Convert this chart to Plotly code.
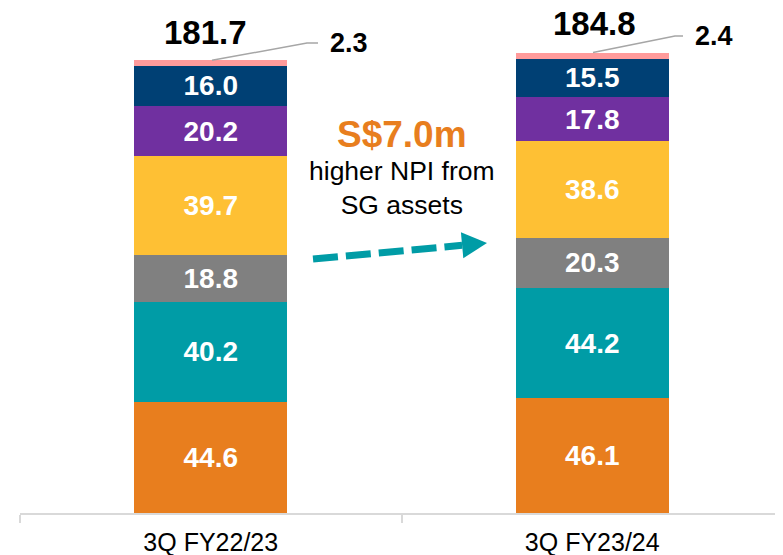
import math
import plotly.graph_objects as go

categories = ["3Q FY22/23", "3Q FY23/24"]
seg_names = ["S1", "S2", "S3", "S4", "S5", "S6", "S7"]
s1_orange = [44.6, 46.1]
s2_teal = [40.2, 44.2]
s3_gray = [18.8, 20.3]
s4_yellow = [39.7, 38.6]
s5_purple = [20.2, 17.8]
s6_navy = [16.0, 15.5]
s7_pink = [2.3, 2.4]
totals = [181.7, 184.8]
callout_big = "S$7.0m"
callout_small = "higher NPI from<br>SG assets"

series = [s1_orange, s2_teal, s3_gray, s4_yellow, s5_purple, s6_navy, s7_pink]
colors = ["#E87E1E", "#009CA6", "#808080", "#FEC034", "#7030A0", "#004074", "#FF9B9B"]

FONT = "Liberation Sans, Arial, sans-serif"
OFF = 8  # page body margin
W, H = 775, 547
ML, MR, MT, MB = 12, 0, 0, 42
PW = W - ML - MR
PH = H - MT - MB
YMAX = PH / 2.49


def px_x(px):  # screen pixel x -> category data x
    return (px - OFF - ML) / PW * 2 - 0.5


def px_y(py):  # screen pixel y -> data y
    return (H - MB - (py - OFF)) / PH * YMAX


fig = go.Figure()
for i, vals in enumerate(series):
    is_pink = i == len(series) - 1
    fig.add_trace(go.Bar(
        x=categories, y=vals, name=seg_names[i],
        marker=dict(color=colors[i], line=dict(width=0)),
        text=None if is_pink else [f"{v:.1f}" for v in vals],
        textposition="inside", insidetextanchor="middle",
        textfont=dict(family=FONT, size=28, color="white", weight="bold"),
        constraintext="none",
        hoverinfo="skip",
    ))

stack_tops = [sum(s[j] for s in series) for j in range(2)]

# totals
for j, cat in enumerate(categories):
    fig.add_annotation(x=j, y=stack_tops[j], xref="x", yref="y",
                       text=f"{totals[j]:.1f}", showarrow=False,
                       yanchor="middle", yshift=[28, 29][j], xshift=[-5, 2][j],
                       font=dict(family=FONT, size=33, color="black", weight="bold"))

# pink labels with leader lines
leader = [((212, 60), (307, 43), (318, 43), 328), ((593, 52), (675, 36), (683, 36), 693)]
for j in range(2):
    (sx0, sy0), (ax1, ay1), (ax2, ay2), lx = leader[j]
    fig.add_shape(type="path", xref="x", yref="y",
                  path=(f"M {px_x(sx0)} {stack_tops[j]} L {px_x(ax1)} {px_y(ay1)} "
                        f"L {px_x(ax2)} {px_y(ay2)}"),
                  line=dict(color="#A6A6A6", width=1.5))
    fig.add_annotation(x=px_x(lx), y=px_y(ay2), xref="x", yref="y",
                       text=f"{s7_pink[j]:.1f}", showarrow=False,
                       xanchor="left", yanchor="middle",
                       font=dict(family=FONT, size=27, color="black", weight="bold"))

# callout text
fig.add_annotation(x=px_x(402), y=px_y(134), xref="x", yref="y", text=callout_big,
                   showarrow=False,
                   font=dict(family=FONT, size=37, color="#E87E1E", weight="bold"))
fig.add_annotation(x=px_x(402), y=px_y(188), xref="x", yref="y", text=callout_small,
                   showarrow=False, align="center",
                   font=dict(family=FONT, size=26.5, color="black"))

# dashed arrow
tx, ty = 487, 243
sx, sy = 313, 259
dx, dy = tx - sx, ty - sy
L = math.hypot(dx, dy)
ux, uy = dx / L, dy / L
nx, ny = -uy, ux
bx, by = tx - 25 * ux, ty - 25 * uy
fig.add_shape(type="line", xref="x", yref="y",
              x0=px_x(sx), y0=px_y(sy), x1=px_x(bx), y1=px_y(by),
              line=dict(color="#009CA6", width=7, dash="25px,8px"))
p1 = (bx + 13 * nx, by + 13 * ny)
p2 = (bx - 13 * nx, by - 13 * ny)
fig.add_shape(type="path", xref="x", yref="y",
              path=(f"M {px_x(tx)} {px_y(ty)} L {px_x(p1[0])} {px_y(p1[1])} "
                    f"L {px_x(p2[0])} {px_y(p2[1])} Z"),
              fillcolor="#009CA6", line=dict(width=0))

fig.update_layout(
    width=W, height=H, barmode="stack", bargap=0.6,
    margin=dict(l=ML, r=MR, t=MT, b=MB, autoexpand=False),
    paper_bgcolor="white", plot_bgcolor="white",
    showlegend=False,
    font=dict(family=FONT),
    xaxis=dict(range=[-0.5, 1.5], showline=True, linecolor="#D9D9D9", linewidth=1.5,
               ticks="outside", tickson="boundaries", ticklen=8, tickcolor="#D9D9D9",
               tickwidth=1.5, showgrid=False, ticklabelstandoff=6,
               tickfont=dict(family=FONT, size=25, color="black")),
    yaxis=dict(range=[0, YMAX], visible=False, showgrid=False),
)

fig.write_html("out.html")
